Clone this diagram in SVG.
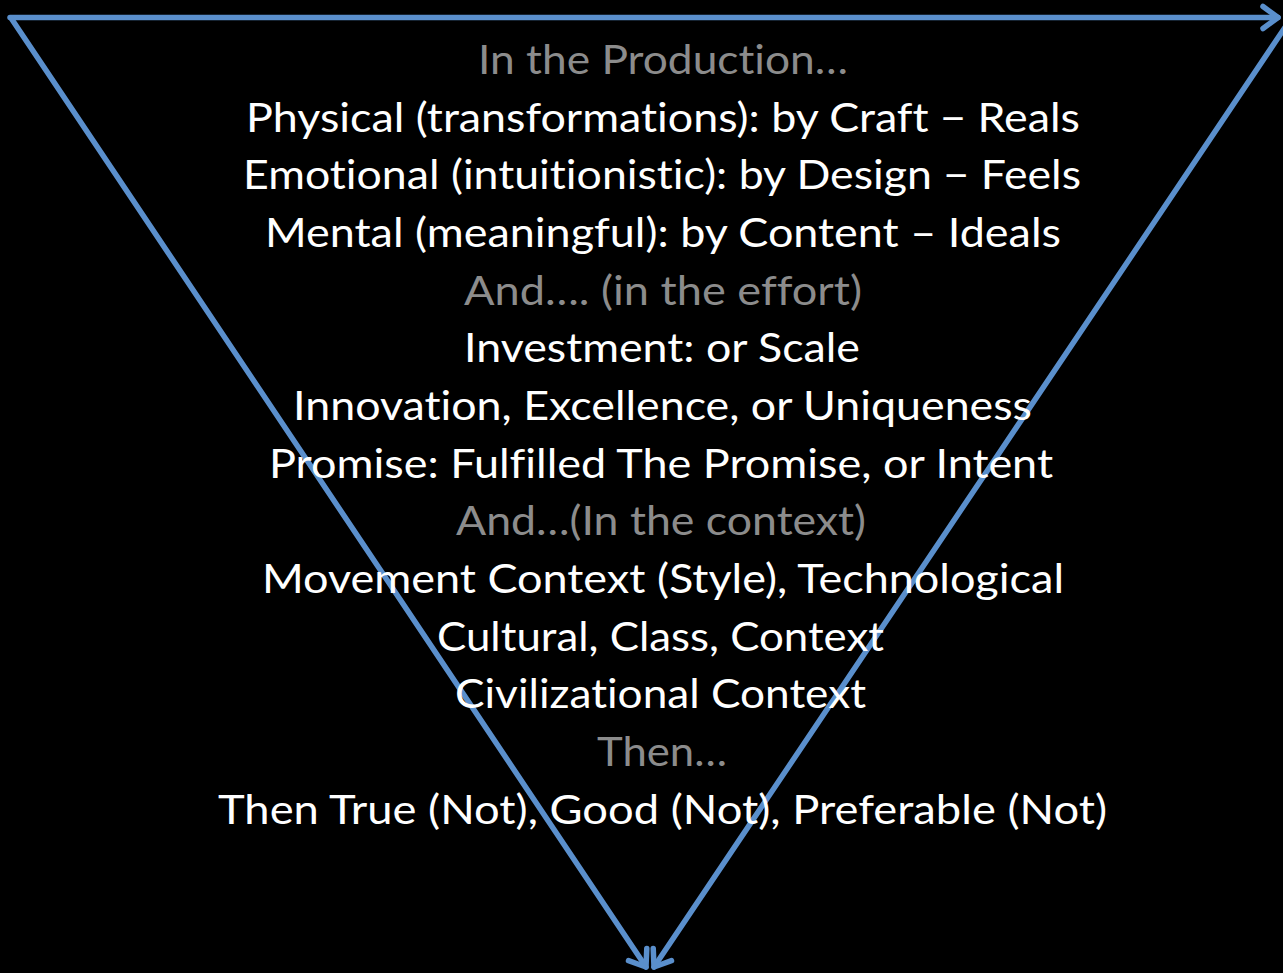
<svg xmlns="http://www.w3.org/2000/svg" width="1283" height="973" viewBox="0 0 1283 973">
  <style>
    .t { font-family: Lato, "Open Sans", "Liberation Sans", sans-serif; font-size: 41px; text-anchor: middle; font-variant-ligatures: none; font-feature-settings: "liga" 0, "clig" 0; }
    .w { fill: #ffffff; }
    .g { fill: #8c8c8c; }
    .edge { fill: none; stroke: #5a8fcc; stroke-width: 5.5; stroke-linecap: round; }
  </style>
  <defs>
    <marker id="arrow" markerUnits="userSpaceOnUse" markerWidth="40" markerHeight="40" refX="0" refY="0" viewBox="-20 -20 40 40" orient="auto" overflow="visible">
      <path d="M-15,-11 L0,0 L-15,11" fill="none" stroke="#5a8fcc" stroke-width="5.5" stroke-linecap="round" stroke-linejoin="round"/>
    </marker>
  </defs>
  <rect x="0" y="0" width="1283" height="973" fill="#000000"/>

  <g id="connectors">
    <line class="edge" x1="10" y1="17.5" x2="1278" y2="17.5" marker-end="url(#arrow)"/>
    <line class="edge" x1="11" y1="18" x2="646" y2="967" marker-end="url(#arrow)"/>
    <line class="edge" x1="1290" y1="20" x2="654" y2="967" marker-end="url(#arrow)"/>
  </g>

  <g id="text-block">
    <text class="t g" x="663" y="74" textLength="370" lengthAdjust="spacingAndGlyphs">In the Production…</text>
    <text class="t w" x="663" y="131.5" textLength="834" lengthAdjust="spacingAndGlyphs">Physical (transformations): by Craft − Reals</text>
    <text class="t w" x="662" y="189" textLength="838" lengthAdjust="spacingAndGlyphs">Emotional (intuitionistic): by Design − Feels</text>
    <text class="t w" x="663" y="247" textLength="796" lengthAdjust="spacingAndGlyphs">Mental (meaningful): by Content – Ideals</text>
    <text class="t g" x="663" y="304.5" textLength="398" lengthAdjust="spacingAndGlyphs">And…. (in the effort)</text>
    <text class="t w" x="662" y="362" textLength="396" lengthAdjust="spacingAndGlyphs">Investment: or Scale</text>
    <text class="t w" x="662.5" y="420" textLength="739" lengthAdjust="spacingAndGlyphs">Innovation, Excellence, or Uniqueness</text>
    <text class="t w" x="661" y="477.5" textLength="784" lengthAdjust="spacingAndGlyphs">Promise: Fulfilled The Promise, or Intent</text>
    <text class="t g" x="661" y="535" textLength="410" lengthAdjust="spacingAndGlyphs">And…(In the context)</text>
    <text class="t w" x="663" y="593" textLength="802" lengthAdjust="spacingAndGlyphs">Movement Context (Style), Technological</text>
    <text class="t w" x="660.5" y="650.5" textLength="447" lengthAdjust="spacingAndGlyphs">Cultural, Class, Context</text>
    <text class="t w" x="660.5" y="708" textLength="411" lengthAdjust="spacingAndGlyphs">Civilizational Context</text>
    <text class="t g" x="662" y="766" textLength="130" lengthAdjust="spacingAndGlyphs">Then…</text>
    <text class="t w" x="662.5" y="823.5" textLength="889" lengthAdjust="spacingAndGlyphs">Then True (Not), Good (Not), Preferable (Not)</text>
  </g>
</svg>
